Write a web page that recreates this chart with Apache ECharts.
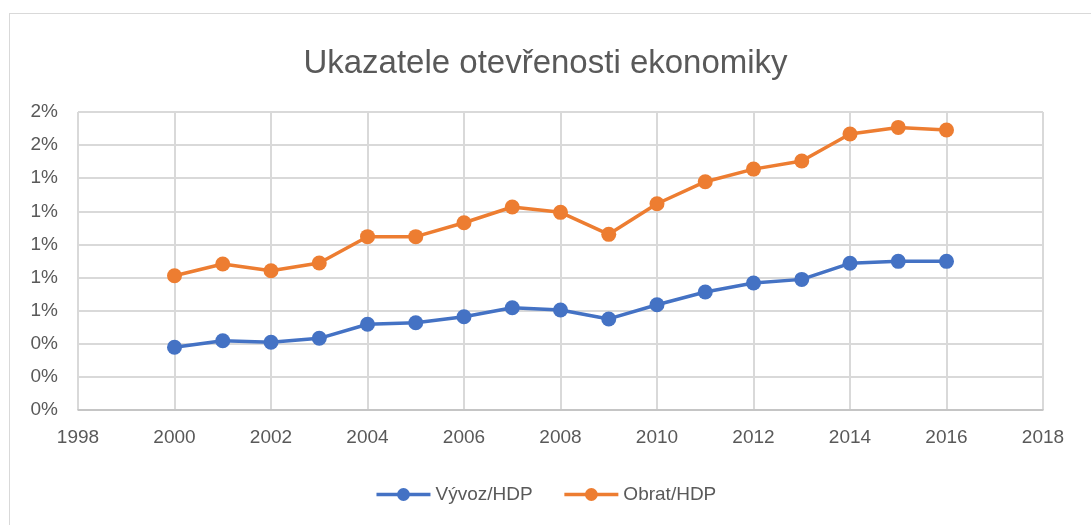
<!DOCTYPE html>
<html>
<head>
<meta charset="utf-8">
<script src="https://cdn.jsdelivr.net/npm/echarts@6/dist/echarts.min.js"></script>
<style>
  html, body { margin: 0; padding: 0; background: #fff; }
  #frame {
    position: absolute; left: 9px; top: 13px; width: 1100px; height: 530px;
    border-left: 1px solid #d9d9d9; border-top: 1px solid #d9d9d9;
  }
  #chart { position: absolute; left: 0; top: 0; width: 1091px; height: 525px; }
</style>
</head>
<body>
<div id="frame"></div>
<div id="chart"></div>
<script>
// data
const years = [2000, 2001, 2002, 2003, 2004, 2005, 2006, 2007, 2008, 2009, 2010, 2011, 2012, 2013, 2014, 2015, 2016]
const vyvozHdp = [0.00379, 0.00418, 0.00409, 0.00433, 0.00518, 0.00527, 0.00563, 0.00618, 0.00604, 0.00550, 0.00636, 0.00713, 0.00767, 0.00789, 0.00886, 0.00898, 0.00898]
const obratHdp = [0.00811, 0.00882, 0.00841, 0.00888, 0.01047, 0.01047, 0.01131, 0.01226, 0.01194, 0.01061, 0.01246, 0.01379, 0.01455, 0.01504, 0.01667, 0.01707, 0.01691]
const seriesNames = ['Vývoz/HDP', 'Obrat/HDP']

const font = 'Liberation Sans, Arial, sans-serif'
const textColor = '#595959'

const chart = echarts.init(document.getElementById('chart'))

const option = {
  animation: false,
  title: {
    text: 'Ukazatele otevřenosti ekonomiky',
    left: 'center',
    top: 42,
    textStyle: { fontFamily: font, fontSize: 33, fontWeight: 'normal', color: textColor }
  },
  legend: {
    data: seriesNames,
    bottom: 16,
    left: 'center',
    itemWidth: 54,
    itemHeight: 16,
    itemGap: 30,
    lineStyle: { width: 3.5 },
    textStyle: { fontFamily: font, fontSize: 19, color: textColor }
  },
  grid: { left: 78, right: 48, top: 112, bottom: 115, show: true, borderColor: '#d9d9d9', borderWidth: 1 },
  xAxis: {
    type: 'value',
    min: 1998,
    max: 2018,
    interval: 2,
    axisLine: { lineStyle: { color: '#bfbfbf', width: 1.5 } },
    axisTick: { show: false },
    splitLine: { show: true, lineStyle: { color: '#d9d9d9', width: 2 } },
    axisLabel: {
      margin: 18, fontFamily: font, fontSize: 19, color: textColor,
      formatter: v => String(v)
    }
  },
  yAxis: {
    type: 'value',
    min: 0,
    max: 0.018,
    interval: 0.002,
    axisLine: { show: false },
    axisTick: { show: false },
    splitLine: { lineStyle: { color: '#d9d9d9', width: 2 } },
    axisLabel: {
      margin: 20, fontFamily: font, fontSize: 19, color: textColor,
      formatter: v => Math.round(v * 100) + '%'
    }
  },
  series: [
    {
      name: seriesNames[0],
      type: 'line',
      data: years.map((y, i) => [y, vyvozHdp[i]]),
      symbol: 'circle',
      symbolSize: 15,
      itemStyle: { color: '#4472c4' },
      lineStyle: { color: '#4472c4', width: 3.5 }
    },
    {
      name: seriesNames[1],
      type: 'line',
      data: years.map((y, i) => [y, obratHdp[i]]),
      symbol: 'circle',
      symbolSize: 15,
      itemStyle: { color: '#ed7d31' },
      lineStyle: { color: '#ed7d31', width: 3.5 }
    }
  ]
}

chart.setOption(option)
</script>
</body>
</html>
